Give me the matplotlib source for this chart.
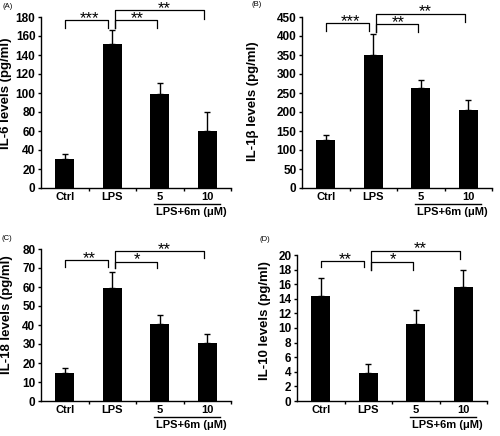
import matplotlib
matplotlib.use('Agg')
import matplotlib.pyplot as plt
import matplotlib.transforms as mtransforms
import numpy as np

plt.rcParams['font.family'] = ['Liberation Sans', 'DejaVu Sans']
plt.rcParams['font.weight'] = 'bold'

groups = ['Ctrl', 'LPS', '5', '10']
group_label = 'LPS+6m (μM)'

il6 = [30.8, 151.7, 99.3, 60.5]
il6_err = [4.5, 15.1, 10.7, 19.2]
il1b = [125, 350, 263, 205]
il1b_err = [15, 54, 22, 27]
il18 = [14.8, 59.7, 40.3, 30.4]
il18_err = [2.5, 8.4, 4.9, 4.7]
il10 = [14.4, 3.9, 10.5, 15.6]
il10_err = [2.4, 1.2, 1.9, 2.3]

values = [il6, il1b, il18, il10]
errors = [il6_err, il1b_err, il18_err, il10_err]
ylabels = ['IL-6 levels (pg/ml)', 'IL-1β levels (pg/ml)',
           'IL-18 levels (pg/ml)', 'IL-10 levels (pg/ml)']
panels = ['(A)', '(B)', '(C)', '(D)']
ymax = [180, 450, 80, 20]
ystep = [20, 50, 10, 2]
stars = [['***', '**', '**'], ['***', '**', '**'],
         ['**', '*', '**'], ['**', '*', '**']]
# bracket heights (top, leg end) for Ctrl-LPS, LPS-5, LPS-10
bracket_y = [
    [(176.6, 168), (176.6, 168), (187, 178)],
    [(435, 412), (432, 410), (459, 437)],
    [(74.2, 70.4), (73.4, 69.9), (79.1, 75.1)],
    [(19.2, 18.3), (19.1, 18.0), (20.6, 19.5)],
]

W, H = 500, 436
fig = plt.figure(figsize=(5, 4.36), dpi=100)

# axes boxes in pixels: left, top, bottom
boxes = [(41, 17, 188), (302, 17, 188), (41, 249, 401), (297, 255, 401)]
ylab_x = [-0.15, -0.225, -0.145, -0.138]
ylab_y = [0.553, 0.51, 0.57, 0.55]
panel_pos = [(8, 6), (257, 5), (7, 238), (265, 239)]

x = np.arange(len(groups))

for i in range(4):
    l, t, b = boxes[i]
    ax = fig.add_axes([l / W, (H - b) / H, 190 / W, (b - t) / H])
    ax.bar(x, values[i], width=0.4, color='black')
    ax.errorbar(x, values[i], yerr=[np.zeros(4), errors[i]], fmt='none',
                ecolor='black', elinewidth=1, capsize=2.5, capthick=1)
    ax.set_xlim(-0.5, 3.5)
    ax.set_ylim(0, ymax[i])
    ax.set_yticks(np.arange(0, ymax[i] + 1, ystep[i]))
    ax.set_xticks(x)
    ax.set_xticklabels(groups)
    ax.set_xticks([0.5, 1.5, 2.5, 3.5], minor=True)
    ax.tick_params(axis='x', which='major', length=0, pad=3, labelsize=8)
    ax.tick_params(axis='x', which='minor', length=2.5, width=1, direction='out')
    ax.tick_params(axis='y', length=2.5, width=1, direction='out', pad=1.5, labelsize=8.5)
    for s in ['top', 'right']:
        ax.spines[s].set_visible(False)
    for s in ['left', 'bottom']:
        ax.spines[s].set_linewidth(1)
    ax.set_ylabel(ylabels[i], fontsize=9.5, fontweight='bold')
    ax.yaxis.set_label_coords(ylab_x[i], ylab_y[i])

    # significance brackets
    (t1, d1), (t2, d2), (t3, d3) = bracket_y[i]
    kw = dict(color='black', lw=0.9, clip_on=False)
    ax.plot([0, 0, 0.92, 0.92], [d1, t1, t1, d1], **kw)
    ax.plot([1.06, 1.06, 1.95, 1.95], [d2, t2, t2, d2], **kw)
    ax.plot([1.06, 1.06, 2.93, 2.93], [d2, t3, t3, d3], **kw)
    star_tr = mtransforms.offset_copy(ax.transData, fig=fig, y=-3, units='dots')
    ax.text(0.52, t1, stars[i][0], transform=star_tr, ha='center', va='baseline',
            fontsize=12, fontweight='normal')
    ax.text(1.52, t2, stars[i][1], transform=star_tr, ha='center', va='baseline',
            fontsize=12, fontweight='normal')
    ax.text(2.1, t3, stars[i][2], transform=star_tr, ha='center', va='baseline',
            fontsize=12, fontweight='normal')

    # group line under the dose labels
    line_tr = mtransforms.offset_copy(ax.get_xaxis_transform(), fig=fig, y=-16, units='dots')
    ax.plot([1.88, 3.26], [0, 0], color='black', lw=1, transform=line_tr, clip_on=False)
    text_tr = mtransforms.offset_copy(ax.get_xaxis_transform(), fig=fig, y=-24, units='dots')
    ax.text(2.67, 0, group_label, transform=text_tr, ha='center', va='center', fontsize=8)

    px, py = panel_pos[i]
    fig.text(px / W, 1 - py / H, panels[i], ha='center', va='center',
             fontsize=5.5, fontweight='normal')

fig.savefig('out.png', dpi=100)
